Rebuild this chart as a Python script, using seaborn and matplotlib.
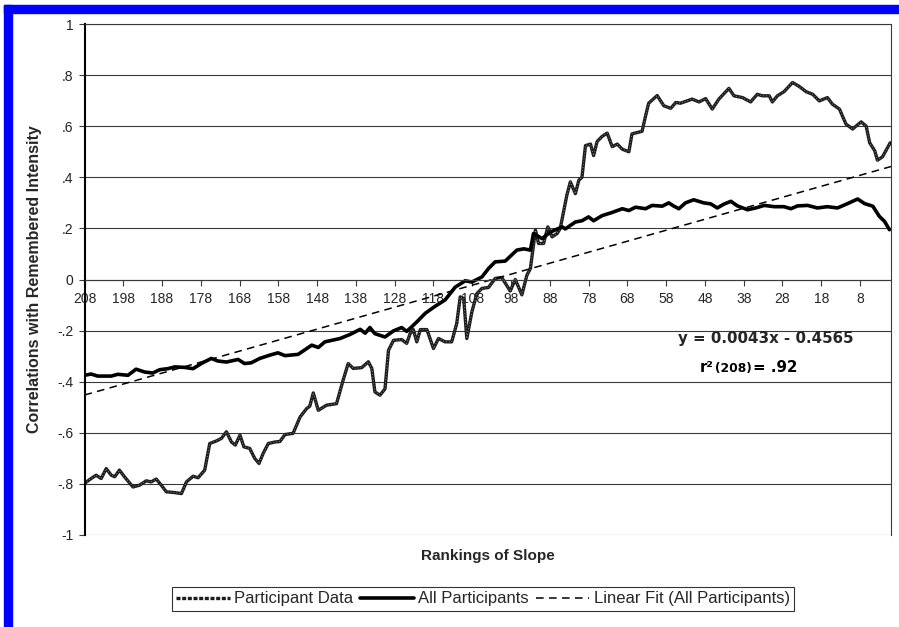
import matplotlib as mpl
mpl.use('Agg')
import matplotlib.pyplot as plt
from matplotlib.offsetbox import TextArea, HPacker, AnchoredOffsetbox
from matplotlib.patches import Rectangle
import numpy as np
import seaborn as sns

sns.set_style('white')
plt.rcParams['font.family'] = ['Liberation Sans', 'DejaVu Sans']

# Participant Data (rank of slope, correlation)
pd_rank = [208.0, 206.3, 205.0, 203.7, 202.4, 201.1, 200.2, 199.0, 197.7, 195.5,
           193.8, 192.1, 190.8, 189.5, 188.2, 186.9, 184.7, 183.0, 181.7, 180.0,
           178.7, 177.0, 175.7, 174.0, 172.7, 171.4, 170.1, 169.1, 167.9, 166.9,
           165.4, 164.1, 163.0, 161.9, 160.6, 158.9, 157.6, 156.3, 154.2, 152.4,
           150.7, 149.9, 149.0, 147.7, 145.6, 143.0, 141.3, 140.0, 138.7, 136.5,
           134.8, 133.9, 133.1, 131.8, 130.5, 129.6, 128.3, 126.2, 124.9, 124.0,
           123.2, 122.3, 121.4, 119.7, 118.0, 116.7, 115.0, 113.3, 112.0, 111.1,
           110.2, 109.4, 108.1, 106.8, 105.5, 103.8, 102.1, 100.4, 98.2, 96.9,
           95.2, 93.9, 93.0, 91.7, 90.9, 89.6, 88.5, 87.4, 86.1, 85.3,
           83.6, 82.7, 81.4, 80.5, 79.7, 78.8, 77.5, 76.7, 75.8, 74.5,
           73.2, 71.9, 70.6, 69.3, 67.6, 66.8, 64.2, 63.3, 62.5, 60.3,
           58.6, 56.8, 55.5, 54.3, 51.3, 49.5, 47.8, 46.1, 44.4, 41.8,
           40.5, 38.3, 36.2, 34.5, 33.2, 31.4, 30.6, 29.3, 27.6, 25.4,
           23.7, 21.9, 20.2, 18.5, 16.4, 15.1, 13.3, 11.6, 9.9, 7.7,
           6.4, 5.5, 4.2, 3.5, 2.2, 0.9, 0.2]
pd_corr = [-0.798, -0.779, -0.766, -0.779, -0.740, -0.766, -0.772, -0.746, -0.772, -0.812,
           -0.805, -0.788, -0.792, -0.781, -0.805, -0.831, -0.834, -0.838, -0.792, -0.770,
           -0.776, -0.746, -0.642, -0.632, -0.622, -0.596, -0.636, -0.648, -0.609, -0.655,
           -0.661, -0.700, -0.720, -0.680, -0.642, -0.636, -0.634, -0.607, -0.602, -0.538,
           -0.505, -0.496, -0.444, -0.512, -0.492, -0.486, -0.394, -0.329, -0.348, -0.345,
           -0.322, -0.348, -0.440, -0.453, -0.428, -0.277, -0.238, -0.235, -0.250, -0.211,
           -0.196, -0.244, -0.196, -0.196, -0.270, -0.231, -0.244, -0.244, -0.172, -0.068,
           -0.074, -0.231, -0.127, -0.055, -0.035, -0.031, 0.004, 0.008, -0.045, 0.000,
           -0.060, 0.017, 0.043, 0.193, 0.141, 0.141, 0.206, 0.167, 0.180, 0.200,
           0.330, 0.382, 0.336, 0.389, 0.400, 0.524, 0.530, 0.485, 0.540, 0.560,
           0.573, 0.520, 0.530, 0.510, 0.500, 0.570, 0.580, 0.640, 0.690, 0.720,
           0.680, 0.670, 0.693, 0.690, 0.706, 0.695, 0.708, 0.667, 0.706, 0.748,
           0.719, 0.712, 0.695, 0.725, 0.719, 0.719, 0.695, 0.719, 0.735, 0.771,
           0.756, 0.735, 0.725, 0.699, 0.712, 0.686, 0.667, 0.608, 0.589, 0.617,
           0.600, 0.535, 0.504, 0.467, 0.480, 0.516, 0.535]

# All Participants (rank of slope, correlation)
all_rank = [208.0, 206.3, 204.6, 201.1, 199.4, 196.8, 194.7, 192.5, 190.4, 188.6,
            186.5, 184.7, 182.2, 180.0, 177.9, 175.3, 173.6, 171.4, 168.4, 166.7,
            165.0, 162.8, 160.2, 158.1, 156.3, 152.9, 149.4, 147.7, 146.0, 142.1,
            139.5, 136.9, 135.6, 134.4, 133.1, 130.5, 128.3, 126.2, 124.9, 123.6,
            121.9, 120.1, 117.6, 115.0, 112.4, 109.8, 108.1, 105.5, 103.8, 102.1,
            99.5, 96.5, 94.7, 93.0, 92.2, 90.0, 87.8, 84.8, 84.0, 81.4,
            79.7, 78.0, 76.7, 74.5, 72.0, 69.3, 67.6, 65.9, 63.3, 61.6,
            59.0, 57.3, 56.0, 54.7, 53.0, 50.9, 48.3, 46.5, 44.8, 43.1,
            41.3, 39.6, 37.0, 34.9, 32.7, 30.1, 27.6, 25.8, 24.1, 21.5,
            19.0, 16.4, 13.8, 11.2, 8.6, 6.8, 4.7, 3.0, 1.7, 0.4]
all_corr = [-0.375, -0.370, -0.378, -0.378, -0.371, -0.375, -0.351, -0.362, -0.366, -0.353,
            -0.349, -0.342, -0.344, -0.349, -0.329, -0.309, -0.319, -0.323, -0.313, -0.329,
            -0.326, -0.309, -0.296, -0.287, -0.298, -0.293, -0.257, -0.266, -0.244, -0.231,
            -0.215, -0.195, -0.210, -0.188, -0.212, -0.225, -0.201, -0.188, -0.203, -0.185,
            -0.160, -0.132, -0.105, -0.080, -0.030, -0.005, -0.010, 0.010, 0.043, 0.069,
            0.072, 0.115, 0.120, 0.115, 0.180, 0.160, 0.186, 0.206, 0.198, 0.225,
            0.230, 0.245, 0.230, 0.250, 0.262, 0.277, 0.270, 0.283, 0.277, 0.290,
            0.287, 0.300, 0.287, 0.277, 0.300, 0.312, 0.300, 0.296, 0.280, 0.295,
            0.306, 0.288, 0.273, 0.280, 0.290, 0.285, 0.285, 0.277, 0.288, 0.290,
            0.280, 0.285, 0.280, 0.297, 0.315, 0.297, 0.287, 0.247, 0.228, 0.195]

# Linear fit of All Participants: y = 0.0043x - 0.4565, x = 209 - rank
fit_slope = 0.0043
fit_intercept = -0.4565
fit_rank = np.array([208, 0])
fit_corr = fit_slope * (209 - fit_rank) + fit_intercept

x_ticks = list(range(208, 0, -10))
y_ticks = [-1, -0.8, -0.6, -0.4, -0.2, 0, 0.2, 0.4, 0.6, 0.8, 1]
y_tick_labels = ['-1', '-.8', '-.6', '-.4', '-.2', '0', '.2', '.4', '.6', '.8', '1']

fig = plt.figure(figsize=(8.99, 6.27), dpi=100)
ax = fig.add_axes([84.5 / 899, 1 - 535 / 627, (891 - 84.5) / 899, (535 - 24) / 627])

# lines
sns.lineplot(x=pd_rank, y=pd_corr, sort=False, estimator=None, color='#1c1c1c',
             lw=2.4, ax=ax)
sns.lineplot(x=pd_rank, y=pd_corr, sort=False, estimator=None, color='white',
             lw=0.6, linestyle=(0, (1, 2.5)), alpha=0.6, ax=ax)
sns.lineplot(x=all_rank, y=all_corr, sort=False, estimator=None, color='black',
             lw=2.6, ax=ax)
sns.lineplot(x=fit_rank, y=fit_corr, sort=False, estimator=None, color='black',
             lw=1.1, linestyle=(0, (5, 3.5)), ax=ax)
l_pd, l_pd_dots, l_all, l_fit = ax.lines[:4]

ax.set_xlim(208, 0)
ax.set_ylim(-1, 1)
ax.set_xticks(x_ticks)
ax.set_xticklabels([str(t) for t in x_ticks], fontweight='normal', color='#222222')
ax.set_yticks(y_ticks)
ax.set_yticklabels(y_tick_labels, fontweight='normal', color='#222222')

ax.yaxis.grid(True, color='#3a3a3a', lw=0.8)
ax.xaxis.grid(False)
ax.spines['bottom'].set_position(('data', 0))
ax.spines['bottom'].set_color('#3a3a3a')
ax.spines['bottom'].set_linewidth(0.8)
for s in ['top', 'right']:
    ax.spines[s].set_visible(True)
    ax.spines[s].set_color('#3a3a3a')
    ax.spines[s].set_linewidth(0.8)
ax.spines['left'].set_color('black')
ax.spines['left'].set_linewidth(1.5)

ax.tick_params(axis='x', direction='out', length=4, width=0.8, pad=5,
               labelsize=10, bottom=True, top=False, color='#3a3a3a')
ax.tick_params(axis='y', direction='out', length=4, width=0.8, pad=4,
               labelsize=10, left=True, right=False, color='#3a3a3a')

ax.set_ylabel('Correlations with Remembered Intensity', fontsize=11.5, fontweight='bold')
ax.yaxis.set_label_coords(-0.053, 0.5)
ax.set_xlabel('Rankings of Slope', fontsize=11, fontweight='bold')
ax.xaxis.set_label_coords(0.5, -0.027)

# regression annotation
ax.text(0.845, 0.3836, 'y = 0.0043x - 0.4565', transform=ax.transAxes,
        ha='center', va='center', fontsize=10.8, fontweight='bold',
        family='DejaVu Sans')
big = dict(fontsize=10.8, fontweight='bold', family='DejaVu Sans', color='black')
small = dict(fontsize=8.8, fontweight='bold', family='DejaVu Sans', color='black')
r2_box = HPacker(children=[TextArea('r\u00b2', textprops=big),
                           TextArea('(208)', textprops=small),
                           TextArea('= .92', textprops=big)],
                 align='baseline', pad=0, sep=1)
ax.add_artist(AnchoredOffsetbox(loc='center', child=r2_box, frameon=False, pad=0,
                                borderpad=0, bbox_to_anchor=(0.823, 0.327),
                                bbox_transform=ax.transAxes))

# legend
leg = fig.legend(handles=[l_pd, l_all, l_fit],
                 labels=['Participant Data', 'All Participants',
                         'Linear Fit (All Participants)'],
                 loc='center', bbox_to_anchor=(483 / 899, 1 - 599 / 627), ncol=3,
                 frameon=True, fancybox=False, edgecolor='black', fontsize=12,
                 handlelength=3.2, handletextpad=0.25, columnspacing=0.45,
                 borderpad=0.25)
leg.get_frame().set_linewidth(0.8)
leg.legend_handles[0].set_linestyle((0, (1.2, 0.5)))

# blue frame of the scanned figure
fig.patches.append(Rectangle((4 / 899, 0), 8.5 / 899, 1 - 5 / 627,
                             transform=fig.transFigure, color='#0000ff', zorder=0))
fig.patches.append(Rectangle((4 / 899, 1 - 12.7 / 627), 1, 7.7 / 627,
                             transform=fig.transFigure, color='#0000ff', zorder=0))

plt.savefig('out.png', dpi=100)
